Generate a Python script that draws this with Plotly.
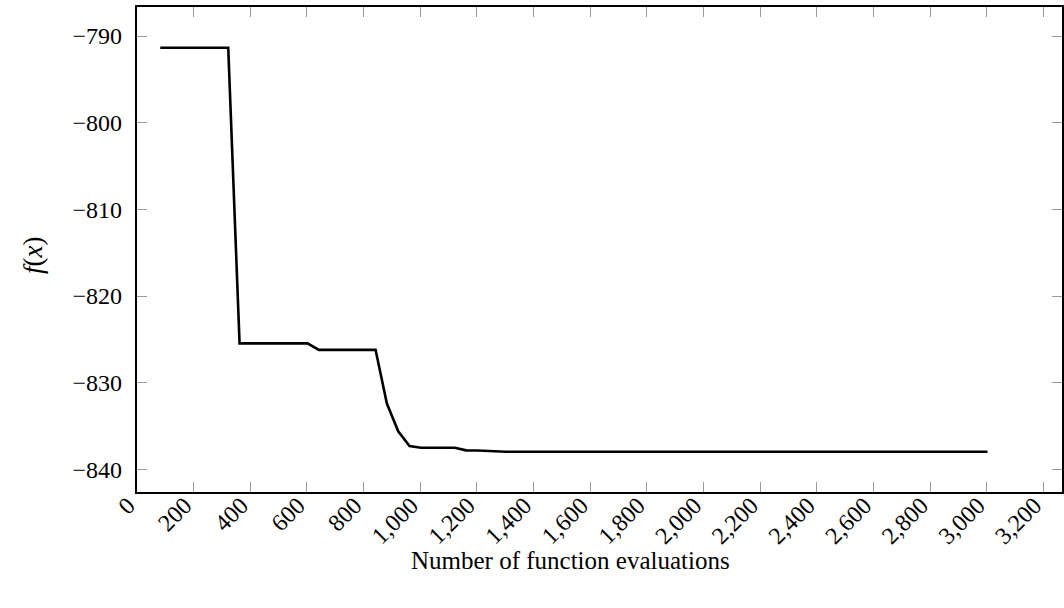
import plotly.graph_objects as go

# Best objective value found so far vs. number of function evaluations
evaluations = [82, 322, 362, 602, 642, 842, 882, 922, 962, 1002, 1122, 1162,
               1202, 1242, 1302, 1402, 3002]
best_f = [-791.35, -791.35, -825.45, -825.45, -826.2, -826.2, -832.4, -835.6,
          -837.3, -837.5, -837.5, -837.8, -837.82, -837.88, -837.95, -837.95,
          -837.95]

x_ticks = list(range(0, 3201, 200))
x_tick_labels = [f"{v:,}" for v in x_ticks]
y_ticks = [-840, -830, -820, -810, -800, -790]

x_title = "Number of function evaluations"
y_title = "<i>f</i>(<i>x</i>)"

FONT = "Liberation Serif"

fig = go.Figure()
fig.add_trace(go.Scatter(
    x=evaluations, y=best_f, mode="lines",
    line=dict(color="black", width=2.6),
    showlegend=False, hoverinfo="skip",
))

axis_common = dict(
    showline=True, linecolor="black", linewidth=2.2, mirror="ticks",
    ticks="inside", ticklen=10, tickwidth=1, tickcolor="#9a9a9a",
    showgrid=False, zeroline=False,
    tickfont=dict(family=FONT, size=24, color="black"),
)

fig.update_xaxes(
    range=[0, 3265], tickvals=x_ticks, ticktext=x_tick_labels,
    tickangle=-45, ticklabelstandoff=-12, ticklabelshift=-9,
    **axis_common,
)
fig.update_yaxes(
    range=[-842.6, -786.65], tickvals=y_ticks, ticklabelstandoff=8,
    **axis_common,
)

# axis titles placed relative to the plotting area
fig.add_annotation(text=x_title, xref="paper", yref="paper",
                   x=0.469, y=-0.142, xanchor="center", yanchor="middle",
                   showarrow=False,
                   font=dict(family=FONT, size=25, color="black"))
fig.add_annotation(text=y_title, xref="paper", yref="paper",
                   x=-0.1124, y=0.4887, xanchor="center", yanchor="middle",
                   textangle=-90, showarrow=False,
                   font=dict(family=FONT, size=27, color="black"))

fig.update_layout(
    width=1064, height=608,
    margin=dict(l=137, r=2, t=7, b=116, autoexpand=False),
    paper_bgcolor="white", plot_bgcolor="white",
)

fig.write_html("out.html")
